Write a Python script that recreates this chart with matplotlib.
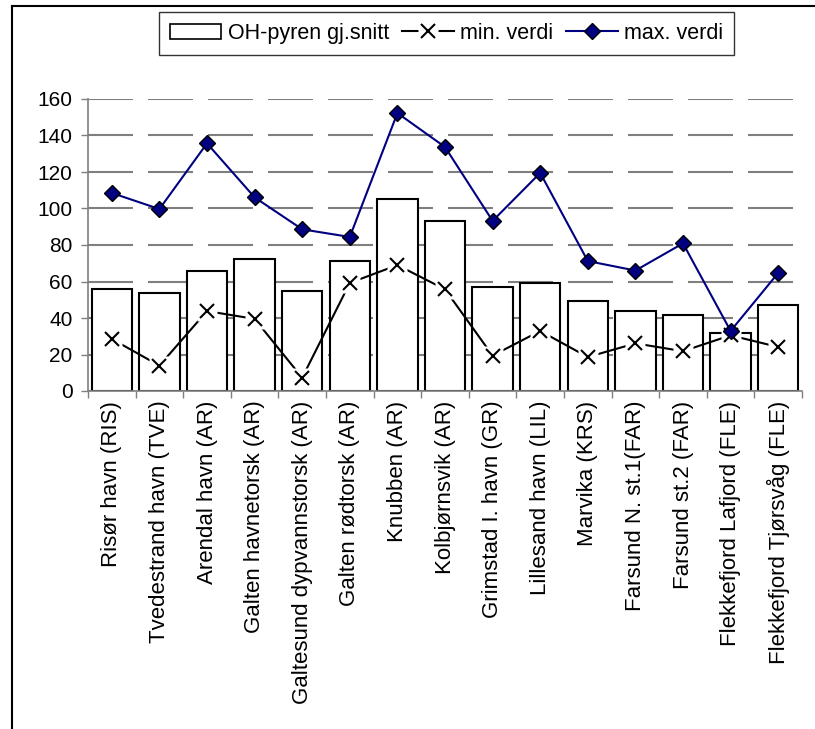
import numpy as np
import matplotlib
matplotlib.use('Agg')
import matplotlib.pyplot as plt
from matplotlib.lines import Line2D
from matplotlib.patches import Patch

plt.rcParams['font.family'] = ['Liberation Sans', 'DejaVu Sans']

# Data
stations = ['Risør havn (RIS)', 'Tvedestrand havn (TVE)', 'Arendal havn (AR)',
            'Galten havnetorsk (AR)', 'Galtesund dypvannstorsk (AR)',
            'Galten rødtorsk (AR)', 'Knubben (AR)', 'Kolbjørnsvik (AR)',
            'Grimstad I. havn (GR)', 'Lillesand havn (LIL)', 'Marvika (KRS)',
            'Farsund N. st.1(FAR)', 'Farsund st.2 (FAR)', 'Flekkefjord Lafjord (FLE)',
            'Flekkefjord Tjørsvåg (FLE)']
mean_vals = [56, 53.7, 65.8, 72.2, 54.8, 71.2, 105.4, 93, 57, 59.4, 49.3, 43.8, 41.5, 31.8, 47]
min_vals = [28.5, 13.9, 43.8, 39.5, 7.3, 59.2, 69, 55.7, 19.4, 32.9, 18.6, 26.1, 21.8, 30.5, 24.1]
max_vals = [108.5, 99.7, 135.7, 106.1, 88.6, 84.4, 152.3, 133.7, 93.2, 119.5, 71.2, 66, 80.9, 32.9, 64.7]

W, H = 815, 729
fig = plt.figure(figsize=(W / 100, H / 100), dpi=100)
ax = fig.add_axes([88 / W, 1 - 391 / H, (802 - 88) / W, (391 - 99) / H])

x = np.arange(len(stations))
grey = '#7f7f7f'

# bars
ax.bar(x, mean_vals, width=0.85, color='white', edgecolor='black', linewidth=1.5, zorder=2)

# min line: x markers sitting on a white square (Excel style)
ax.plot(x, min_vals, color='black', lw=1.5, zorder=3)
ax.plot(x, min_vals, ls='none', marker='s', ms=15, mfc='white', mec='none', zorder=3.5)
ax.plot(x, min_vals, ls='none', marker='x', ms=9.5, mec='black', mew=1.5, zorder=4)

# max line
ax.plot(x, max_vals, color='#000080', lw=1.5, marker='D', ms=8.5, mfc='#000080',
        mec='black', mew=1, zorder=5)

ax.set_xlim(-0.5, len(stations) - 0.5)
ax.set_ylim(0, 160)
ax.set_yticks(np.arange(0, 161, 20))
ax.set_axisbelow(True)
ax.yaxis.grid(True, color=grey, lw=1.5, linestyle=(0, (21.6, 7.2)))
ax.xaxis.grid(False)

ax.set_xticks(x)
ax.set_xticklabels(stations, rotation=90, fontsize=16, va='top', ha='center')
ax.set_xticks(np.arange(-0.5, len(stations)), minor=True)
ax.tick_params(axis='x', which='major', length=0, pad=7)
ax.tick_params(axis='x', which='minor', length=5, color=grey, width=1)
ax.tick_params(axis='y', length=5, color=grey, width=1, labelsize=15, pad=6)

for s in ['top', 'right']:
    ax.spines[s].set_visible(False)
for s in ['left', 'bottom']:
    ax.spines[s].set_color(grey)
    ax.spines[s].set_linewidth(1.2)

# legend
h_bar = Patch(facecolor='white', edgecolor='black', linewidth=1.2)
h_min = (Line2D([], [], color='black', lw=1.5),
         Line2D([], [], ls='none', marker='s', ms=15, mfc='white', mec='none'),
         Line2D([], [], ls='none', marker='x', ms=9.5, mec='black', mew=1.5))
h_max = Line2D([], [], color='#000080', lw=1.5, marker='D', ms=8.5, mfc='#000080',
               mec='black', mew=1)
leg = fig.legend([h_bar, h_min, h_max], ['OH-pyren gj.snitt', 'min. verdi', 'max. verdi'],
                 loc='upper center', bbox_to_anchor=(446.5 / W, 1 - 12 / H), ncol=3,
                 fontsize=15.5, frameon=True, fancybox=False, edgecolor='black',
                 handlelength=2.4, handletextpad=0.3, columnspacing=0.6, borderpad=0.5,
                 borderaxespad=0)
leg.get_frame().set_linewidth(1)

# outer chart border (left and top only visible)
fig.add_artist(Line2D([12 / W, 12 / W], [0, 1 - 6 / H], transform=fig.transFigure,
                      color='black', lw=1.5))
fig.add_artist(Line2D([12 / W, 1], [1 - 6 / H, 1 - 6 / H], transform=fig.transFigure,
                      color='black', lw=1.5))

fig.savefig('out.png', dpi=100)
